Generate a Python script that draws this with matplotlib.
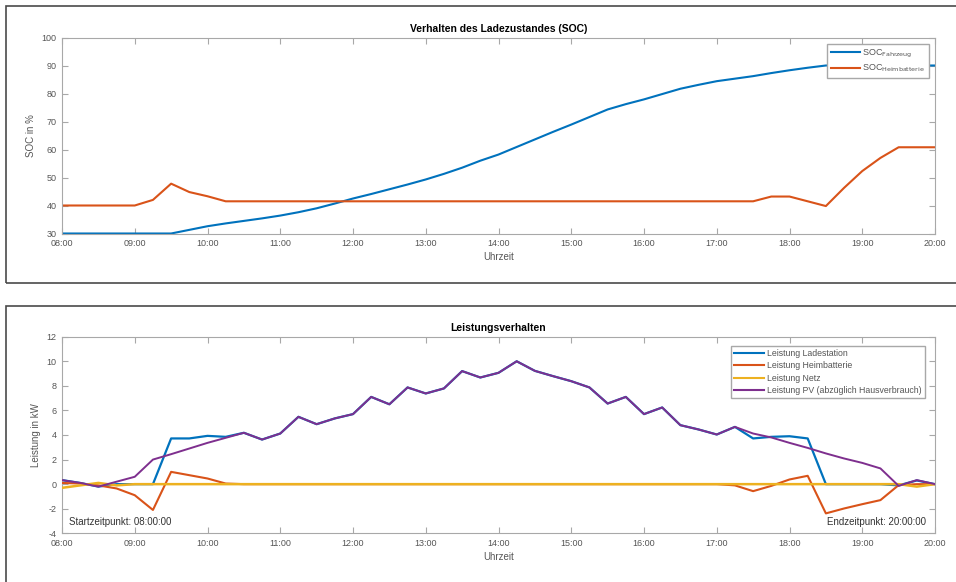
import numpy as np
import matplotlib
matplotlib.use("Agg")
import matplotlib.pyplot as plt
from matplotlib.patches import Rectangle
from matplotlib.lines import Line2D

plt.rcParams['font.family'] = ['Liberation Sans', 'DejaVu Sans']
plt.rcParams['axes.unicode_minus'] = False

# time grid: 15-minute steps from 08:00 to 20:00 (hours)
hours = np.arange(8.0, 20.0001, 0.25)
tick_hours = list(range(8, 21))
tick_labels = ["08:00", "09:00", "10:00", "11:00", "12:00", "13:00", "14:00",
               "15:00", "16:00", "17:00", "18:00", "19:00", "20:00"]

# SOC in %
soc_fahrzeug = [30, 30, 30, 30, 30, 30, 30, 31.3, 32.6, 33.6, 34.5, 35.4,
                36.4, 37.6, 39.0, 40.7, 42.5, 44.1, 45.8, 47.5, 49.3, 51.3,
                53.5, 56.0, 58.2, 60.9, 63.6, 66.3, 68.9, 71.6, 74.3, 76.2,
                77.9, 79.8, 81.7, 83.1, 84.4, 85.3, 86.2, 87.3, 88.3, 89.2,
                90, 90, 90, 90, 90, 90, 90]
soc_heim = [40, 40, 40, 40, 40, 42, 47.8, 44.8, 43.3, 41.5, 41.5, 41.5,
            41.5, 41.5, 41.5, 41.5, 41.5, 41.5, 41.5, 41.5, 41.5, 41.5,
            41.5, 41.5, 41.5, 41.5, 41.5, 41.5, 41.5, 41.5, 41.5, 41.5,
            41.5, 41.5, 41.5, 41.5, 41.5, 41.5, 41.5, 43.2, 43.2, 41.5,
            39.8, 46.3, 52.3, 57.0, 60.8, 60.8, 60.8]

# Leistung in kW
p_pv = [0.33, 0.1, -0.2, 0.2, 0.6, 2.0, 2.44, 2.9, 3.36, 3.77, 4.18, 3.63,
        4.12, 5.48, 4.88, 5.35, 5.7, 7.1, 6.5, 7.87, 7.38, 7.79, 9.2, 8.68,
        9.06, 10.0, 9.22, 8.79, 8.38, 7.87, 6.56, 7.1, 5.7, 6.24, 4.8, 4.45,
        4.04, 4.66, 4.12, 3.8, 3.36, 2.95, 2.5, 2.09, 1.73, 1.28, -0.14,
        0.33, 0.0]
p_lade = [0.33, 0.1, -0.2, 0.0, 0.0, 0.0, 3.72, 3.72, 3.93, 3.85, 4.18, 3.63,
          4.12, 5.48, 4.88, 5.35, 5.7, 7.1, 6.5, 7.87, 7.38, 7.79, 9.2, 8.68,
          9.06, 10.0, 9.22, 8.79, 8.38, 7.87, 6.56, 7.1, 5.7, 6.24, 4.8, 4.45,
          4.04, 4.66, 3.72, 3.85, 3.9, 3.72, 0.0, 0.0, 0.0, 0.0, -0.1,
          0.3, 0.0]
p_heim = [0.1, 0.05, -0.1, -0.35, -0.9, -2.1, 1.0, 0.73, 0.46, 0.05, 0, 0,
          0, 0, 0, 0, 0, 0, 0, 0, 0, 0, 0, 0, 0, 0, 0, 0, 0, 0, 0, 0, 0, 0,
          0, 0, 0, -0.1, -0.57, -0.14, 0.38, 0.68, -2.38, -1.98, -1.63,
          -1.3, -0.08, 0.0, 0.0]
p_netz = [-0.3, -0.1, 0.1, -0.1, 0, 0, 0, 0, 0, 0, 0, 0, 0, 0, 0, 0, 0, 0,
          0, 0, 0, 0, 0, 0, 0, 0, 0, 0, 0, 0, 0, 0, 0, 0, 0, 0, 0, 0, 0, 0,
          0, 0, 0, 0, 0, 0, 0.0, -0.2, 0.0]

C_BLUE = "#0072BD"
C_ORANGE = "#D95319"
C_YELLOW = "#EDB120"
C_PURPLE = "#7E2F8E"
SPINE = "#a8a8a8"
TXT = "#555555"

W, H = 956, 582
fig = plt.figure(figsize=(W / 100, H / 100), dpi=100)
fig.patch.set_facecolor("white")

# panel frames (px -> figure fraction)
def frame(x0, y0, x1, y1):
    r = Rectangle((x0 / W, 1 - y1 / H), (x1 - x0) / W, (y1 - y0) / H,
                  transform=fig.transFigure, fill=False, edgecolor="#4a4a4a",
                  linewidth=1.2, zorder=0)
    fig.patches.append(r)

frame(6, 6, 990, 283)
frame(6, 306, 990, 620)

def style_axes(ax):
    for s in ax.spines.values():
        s.set_color(SPINE)
        s.set_linewidth(0.8)
    ax.tick_params(direction="in", length=4.5, width=0.8, color=SPINE,
                   labelsize=6.5, labelcolor=TXT, top=True, right=True,
                   pad=4)
    ax.set_xlim(8, 20)
    ax.set_xticks(tick_hours)
    ax.set_xticklabels(tick_labels)

# ---- top axes ----
ax1 = fig.add_axes([62 / W, 1 - 233.5 / H, 873 / W, 196 / H])
style_axes(ax1)
ax1.plot(hours, soc_fahrzeug, color=C_BLUE, lw=1.5,
         label=r"SOC$_{\mathrm{Fahrzeug}}$")
ax1.plot(hours, soc_heim, color=C_ORANGE, lw=1.5,
         label=r"SOC$_{\mathrm{Heimbatterie}}$")
ax1.set_ylim(30, 100)
ax1.set_yticks(range(30, 101, 10))
ax1.set_title("Verhalten des Ladezustandes (SOC)", fontsize=7.5,
              fontweight="bold", pad=4)
ax1.set_xlabel("Uhrzeit", fontsize=7, color=TXT, labelpad=3)
ax1.set_ylabel("SOC in %", fontsize=7, color=TXT, labelpad=4)
leg1 = ax1.legend(loc="upper right", fontsize=6.5, frameon=True,
                  fancybox=False, edgecolor=SPINE, framealpha=1,
                  handlelength=3.2, borderaxespad=0.7, labelspacing=0.35,
                  handletextpad=0.3)
for t in leg1.get_texts():
    t.set_color(TXT)

# ---- bottom axes ----
ax2 = fig.add_axes([62 / W, 1 - 533.3 / H, 873 / W, 196.6 / H])
style_axes(ax2)
ax2.plot(hours, p_lade, color=C_BLUE, lw=1.6, zorder=2)
ax2.plot(hours, p_heim, color=C_ORANGE, lw=1.5, zorder=3)
ax2.plot(hours, p_netz, color=C_YELLOW, lw=1.8, zorder=4)
ax2.plot(hours, p_pv, color=C_PURPLE, lw=1.4, zorder=5)
ax2.set_ylim(-4, 12)
ax2.set_yticks(range(-4, 13, 2))
ax2.set_title("Leistungsverhalten", fontsize=7.5, fontweight="bold", pad=4)
ax2.set_xlabel("Uhrzeit", fontsize=7, color=TXT, labelpad=3)
ax2.set_ylabel("Leistung in kW", fontsize=7, color=TXT, labelpad=4)
handles = [Line2D([], [], color=C_BLUE, lw=1.5),
           Line2D([], [], color=C_ORANGE, lw=1.5),
           Line2D([], [], color=C_YELLOW, lw=1.5),
           Line2D([], [], color=C_PURPLE, lw=1.5)]
labels = ["Leistung Ladestation", "Leistung Heimbatterie", "Leistung Netz",
          "Leistung PV (abzüglich Hausverbrauch)"]
leg2 = ax2.legend(handles, labels, loc="upper right", fontsize=6.3,
                  frameon=True, fancybox=False, edgecolor=SPINE,
                  framealpha=1, handlelength=3.4, borderaxespad=0.7,
                  labelspacing=0.4, handletextpad=0.3, borderpad=0.35,
                  bbox_to_anchor=(0.995, 0.985))
for t in leg2.get_texts():
    t.set_color(TXT)

ax2.text(8.1, -3.05, "Startzeitpunkt: 08:00:00", fontsize=7, color="#333333",
         ha="left", va="center")
ax2.text(19.88, -3.05, "Endzeitpunkt: 20:00:00", fontsize=7, color="#333333",
         ha="right", va="center")

fig.savefig("out.png", dpi=100, facecolor="white")
